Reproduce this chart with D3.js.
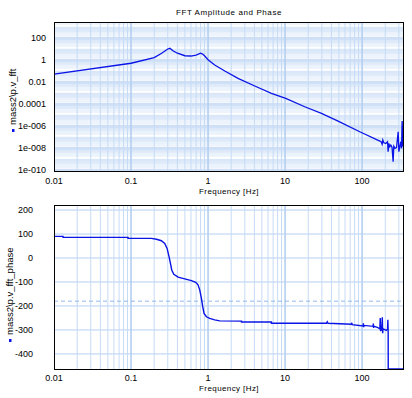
<!DOCTYPE html>
<html><head><meta charset="utf-8">
<script src="https://cdn.jsdelivr.net/npm/d3@7"></script>
<style>body{margin:0;background:#fff} text{font-family:Arial,"Liberation Sans",sans-serif}</style>
</head><body><svg id="c" width="412" height="398"></svg>
<script>
const title = "FFT Amplitude and Phase";
const xLabel = "Frequency [Hz]";
const ampLabel = "mass2\\p.v_fft";
const phaseLabel = "mass2\\p.v_fft_phase";

const ampFreq = [0.01, 0.1, 0.2, 0.25, 0.3, 0.32, 0.35, 0.4, 0.5, 0.6, 0.7, 0.8, 0.85, 0.906, 1.0, 1.22, 1.65, 2.45, 4.04, 6.65, 10.2, 18.0, 29.7, 48.8, 93.3, 170,
  176.6, 182, 185.8, 191.4, 203, 213.8, 217.8, 222.3, 229, 236, 245, 253, 258, 268.5, 280, 294, 300, 309, 318, 325, 331, 338, 348];
const ampValues = [0.056, 0.54, 1.74, 4.4, 10.7, 12.3, 7.4, 4.4, 2.6, 2.45, 3.0, 4.4, 3.7, 2.45, 1.12, 0.37, 0.107, 0.023, 0.0046, 0.001, 3.5e-4, 6.0e-5, 1.5e-5, 3.0e-6, 3.2e-7, 4.6e-8,
  4.0e-8, 2.3e-8, 5.6e-8, 3.2e-8, 2.8e-8, 4.0e-8, 4.9e-9, 2.8e-8, 1.4e-8, 2.0e-8, 1.2e-8, 6.0e-10, 1.6e-8, 1.0e-8, 1.2e-8, 3.2e-7, 4.9e-9, 1.4e-8, 4.0e-8, 1.0e-8, 3.0e-6, 2.0e-8, 2.8e-8];

const phaseFreq = [0.01, 0.0131, 0.0131, 0.0914, 0.0914, 0.184, 0.214, 0.248, 0.274, 0.294, 0.312, 0.325, 0.338, 0.359, 0.408, 0.498, 0.608, 0.692, 0.741, 0.78, 0.82, 0.853, 0.887, 0.953, 1.05, 1.22, 1.42, 2.72, 2.72, 6.65, 6.65,
  34.5, 35.3, 36.2, 72.8, 73.5, 74.2, 103, 104, 105, 106, 139, 140, 141, 142, 160, 170, 172, 174, 176, 180, 183, 185, 187, 200, 205, 214, 216, 218, 218.5, 350];
const phaseValues = [90, 90, 86, 86, 82, 82, 78, 72, 61, 40, 5, -22, -50, -68, -80, -87, -94, -101, -112, -133, -168, -203, -231, -245, -252, -258, -262, -263, -267, -267, -272,
  -272, -266, -272, -276, -270, -278, -283, -272, -288, -281, -285, -273, -292, -284, -290, -296, -250, -305, -292, -298, -247, -314, -295, -300, -302, -297, -258, -300, -600, -600];

const ampTicks = [100, 1, 0.01, 0.0001, 1e-6, 1e-8, 1e-10];
const ampTickLabels = ["100", "1", "0.01", "0.0001", "1e-006", "1e-008", "1e-010"];
const phaseTicks = [200, 100, 0, -100, -200, -300, -400];
const phaseRefLine = [-180];
const freqTicks = [0.01, 0.1, 1, 10, 100];
const freqTickLabels = ["0.01", "0.1", "1", "10", "100"];

const svg = d3.select("#c");
const L = 54, R = 404;
const x = d3.scaleLog().domain([0.01, 350]).range([L, R]);

const minorCol = "#d3e3f8", majorCol = "#b4cff1", lineCol = "#0a14e6";

function freqGrid(g, top, bottom) {
  const vals = [];
  for (let e = -2; e <= 2; e++) for (let m = 1; m <= 9; m++) { const v = m * Math.pow(10, e); if (v <= 350) vals.push(v); }
  g.selectAll("line.vx").data(vals).enter().append("line")
    .attr("x1", d => x(d)).attr("x2", d => x(d)).attr("y1", top).attr("y2", bottom)
    .attr("stroke", (d, i) => (i % 9 === 0) ? majorCol : "#c6dbf6")
    .attr("stroke-width", (d, i) => (i % 9 === 0) ? 1.6 : 1);
}

// ---------- top plot ----------
const T1 = 22, B1 = 172;
const yA = d3.scaleLog().domain([Math.pow(10, -10.15), Math.pow(10, 3.48)]).range([B1, T1]);
const g1 = svg.append("g");
svg.append("clipPath").attr("id", "cp1").append("rect").attr("x", L).attr("y", T1).attr("width", R - L).attr("height", B1 - T1);
const gg1 = g1.append("g").attr("clip-path", "url(#cp1)");
const hvals = [];
for (let e = -11; e <= 3; e++) for (let m = 1; m <= 9; m++) hvals.push({v: m * Math.pow(10, e), m: m, e: e});
gg1.selectAll("line.h").data(hvals).enter().append("line")
  .attr("x1", L).attr("x2", R).attr("y1", d => yA(d.v)).attr("y2", d => yA(d.v))
  .attr("stroke", d => (d.m === 1 && d.e % 2 === 0) ? "#cfe0f6" : minorCol)
  .attr("stroke-width", d => (d.m === 1 && d.e % 2 === 0) ? 3 : 0.8);
freqGrid(gg1, T1, B1);
gg1.append("path").datum(d3.range(ampFreq.length))
  .attr("d", d3.line().x(i => x(ampFreq[i])).y(i => yA(ampValues[i])))
  .attr("fill", "none").attr("stroke", lineCol).attr("stroke-width", 1.3);
g1.append("rect").attr("x", L + 0.5).attr("y", T1 + 0.5).attr("width", R - L - 1).attr("height", B1 - T1 - 1)
  .attr("fill", "none").attr("stroke", "#000").attr("stroke-width", 1);

g1.selectAll("text.yt").data(ampTicks).enter().append("text")
  .attr("x", 46).attr("y", d => yA(d) + 3).attr("text-anchor", "end").attr("font-size", 9)
  .text((d, i) => ampTickLabels[i]);
g1.selectAll("text.xt").data(freqTicks).enter().append("text")
  .attr("x", d => x(d)).attr("y", 184).attr("text-anchor", "middle").attr("font-size", 9)
  .text((d, i) => freqTickLabels[i]);
g1.append("text").attr("x", 229).attr("y", 194).attr("text-anchor", "middle").attr("font-size", 8).attr("letter-spacing", 0.4).text(xLabel);
svg.append("text").attr("x", 229).attr("y", 15).attr("text-anchor", "middle").attr("font-size", 8).attr("letter-spacing", 0.6).text(title);

// y label with marker
const yl1 = g1.append("g").attr("transform", "translate(16,97) rotate(-90)");
yl1.append("rect").attr("x", -35).attr("y", -4).attr("width", 3).attr("height", 2.5).attr("fill", lineCol);
yl1.append("text").attr("x", -28).attr("y", 0).attr("font-size", 9.5).text(ampLabel);

// ---------- bottom plot ----------
const T2 = 205, B2 = 370;
const yP = d3.scaleLinear().domain([-467, 221]).range([B2, T2]).clamp(true);
const g2 = svg.append("g");
svg.append("clipPath").attr("id", "cp2").append("rect").attr("x", L).attr("y", T2).attr("width", R - L).attr("height", B2 - T2 + 1);
const gg2 = g2.append("g").attr("clip-path", "url(#cp2)");
gg2.selectAll("line.h").data(phaseTicks).enter().append("line")
  .attr("x1", L).attr("x2", R).attr("y1", d => yP(d)).attr("y2", d => yP(d))
  .attr("stroke", majorCol).attr("stroke-width", 1);
freqGrid(gg2, T2, B2);
gg2.selectAll("line.ref").data(phaseRefLine).enter().append("line")
  .attr("x1", L).attr("x2", R).attr("y1", d => yP(d)).attr("y2", d => yP(d))
  .attr("stroke", "#8fb8ec").attr("stroke-dasharray", "4,3").attr("stroke-width", 1);
gg2.append("path").datum(d3.range(phaseFreq.length))
  .attr("d", d3.line().x(i => x(phaseFreq[i])).y(i => Math.min(yP(phaseValues[i]), B2 - 1)))
  .attr("fill", "none").attr("stroke", lineCol).attr("stroke-width", 1.4);
g2.append("rect").attr("x", L + 0.5).attr("y", T2 + 0.5).attr("width", R - L - 1).attr("height", B2 - T2 - 1)
  .attr("fill", "none").attr("stroke", "#000").attr("stroke-width", 1);

g2.selectAll("text.yt").data(phaseTicks).enter().append("text")
  .attr("x", 33).attr("y", d => yP(d) + 3).attr("text-anchor", "end").attr("font-size", 9)
  .text(d => d);
g2.selectAll("text.xt").data(freqTicks).enter().append("text")
  .attr("x", d => x(d)).attr("y", 381).attr("text-anchor", "middle").attr("font-size", 9)
  .text((d, i) => freqTickLabels[i]);
g2.append("text").attr("x", 229).attr("y", 391).attr("text-anchor", "middle").attr("font-size", 8).attr("letter-spacing", 0.4).text(xLabel);

const yl2 = g2.append("g").attr("transform", "translate(13,292) rotate(-90)");
yl2.append("rect").attr("x", -50).attr("y", -4).attr("width", 3).attr("height", 2.5).attr("fill", lineCol);
yl2.append("text").attr("x", -43).attr("y", 0).attr("font-size", 9.5).text(phaseLabel);
</script></body></html>
